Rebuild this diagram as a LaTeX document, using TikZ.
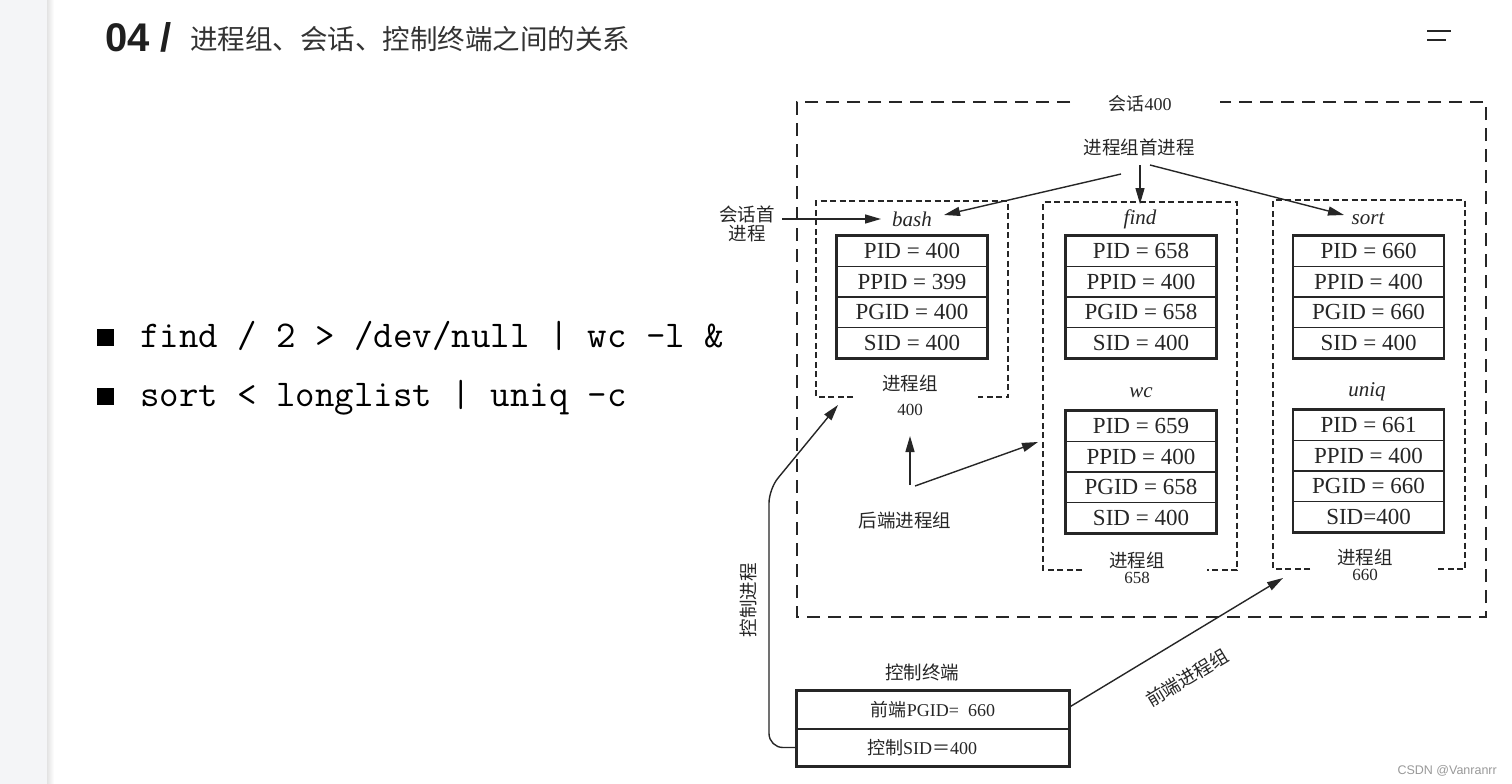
\documentclass[tikz,border=0pt]{standalone}
\usepackage{fontspec}
\setmainfont{Liberation Serif}
\newfontfamily\zh{Noto Sans CJK SC}
\newfontfamily\hei{Liberation Sans}
\usetikzlibrary{arrows.meta}
\colorlet{ink}{black!85}
\definecolor{strip}{RGB}{244,245,247}
\newcommand\ptable[7]{%
  \node[row] (#1-1) at ({#2},{#3+15.25}) {#4};
  \node[row] (#1-2) at ({#2},{#3+45.75}) {#5};
  \node[row] (#1-3) at ({#2},{#3+76.25}) {#6};
  \node[row] (#1-4) at ({#2},{#3+106.75}) {#7};
  \draw[ink, line width=2.4pt] (#1-1.north west) rectangle (#1-4.south east);
}
\begin{document}
\begin{tikzpicture}[x=1pt,y=-1pt,
  sess/.style={draw=ink, line width=2.3pt, dash pattern=on 13pt off 8pt},
  grp/.style={draw=ink, line width=2pt, dash pattern=on 6pt off 3.5pt},
  row/.style={draw=ink, line width=1.2pt, minimum width=150pt, minimum height=30.5pt, inner sep=0pt, text=ink, font=\fontsize{23}{25}\selectfont},
  arr/.style={draw=ink, line width=1.4pt, -{Triangle[length=16pt,width=9pt]}},
  zhl/.style={font=\zh\fontsize{18.5}{20}\selectfont, text=ink, inner sep=0pt},
  num/.style={font=\fontsize{18}{20}\selectfont, text=ink, inner sep=0pt},
  proc/.style={font=\itshape\fontsize{21}{22}\selectfont, text=ink, inner sep=0pt},
  cmd/.style={anchor=base west, inner sep=0pt, font=\ttfamily\fontsize{37.8}{38}\selectfont},
  bullet/.style={fill=black, minimum size=17pt, inner sep=0pt}]
\useasboundingbox (0,0) rectangle (1512,784);
\fill[white] (0,0) rectangle (1512,784);
\fill[strip] (0,0) rectangle (48,784);
\shade[left color=gray!22, right color=white] (47,0) rectangle (54,784);

% title
\node[anchor=base west, inner sep=0pt, font=\hei\bfseries\fontsize{40}{40}\selectfont, text=black!88] (titlenum) at (105,52) {04 /};
\node[anchor=base west, inner sep=0pt, font=\zh\fontsize{27.5}{28}\selectfont, text=black!80] (title) at (190,49) {进程组、会话、控制终端之间的关系};
\draw[line width=2.2pt, black!85] (1427,31) -- (1451,31) (1427,40) -- (1446,40);

% commands
\node[bullet] (b1) at (105.5,337.5) {};
\node[bullet] (b2) at (105.5,396.5) {};
\node[cmd] (cmd1) at (140,347) {find / 2 > /dev/null | wc -l \&};
\node[cmd] (cmd2) at (140,406) {sort < longlist | uniq -c};

% session box
\draw[sess] (1070,102) -- (797,102) -- (797,617) -- (1486,617) -- (1486,102) -- (1220,102);
\node[num] (sessl) at (1140,104) {{\zh 会话}400};
\node[zhl] (lead) at (1139,147) {进程组首进程};

% process groups
\draw[grp] (853,397) -- (816,397) -- (816,201) -- (1008,201) -- (1008,397) -- (978,397);
\draw[grp] (1082,570) -- (1043,570) -- (1043,202) -- (1237,202) -- (1237,570) -- (1207,570);
\draw[grp] (1310,569) -- (1273,569) -- (1273,200) -- (1465,200) -- (1465,569) -- (1435,569);

\node[proc] (bashl) at (912,219) {bash};
\node[proc] (findl) at (1140,219) {find};
\node[proc] (sortl) at (1368,219) {sort};
\node[proc] (wcl) at (1141,393) {wc};
\node[proc] (uniql) at (1367,392) {uniq};

\ptable{bash}{912}{236}{PID = 400}{PPID = 399}{PGID = 400}{SID = 400}
\ptable{find}{1141}{236}{PID = 658}{PPID = 400}{PGID = 658}{SID = 400}
\ptable{sort}{1368.5}{236}{PID = 660}{PPID = 400}{PGID = 660}{SID = 400}
\ptable{wc}{1141}{411}{PID = 659}{PPID = 400}{PGID = 658}{SID = 400}
\ptable{uniq}{1368.5}{410}{PID = 661}{PPID = 400}{PGID = 660}{SID=400}

\node[zhl] (g1) at (910,383) {进程组};
\node[num, font=\fontsize{17}{18}\selectfont] (g1n) at (910,410) {400};
\node[zhl] (g2) at (1137,560) {进程组};
\node[num, font=\fontsize{17}{18}\selectfont] (g2n) at (1137,578) {658};
\node[zhl] (g3) at (1365,557) {进程组};
\node[num, font=\fontsize{17}{18}\selectfont] (g3n) at (1365,575) {660};

% labels
\node[zhl, align=center, font=\zh\fontsize{18.5}{18.5}\selectfont] (sleader) at (747,224) {会话首\\进程};
\node[zhl] (bg) at (905,520) {后端进程组};
\node[zhl] (termt) at (922,672) {控制终端};
\node[zhl, rotate=90] (ctrlp) at (748,600) {控制进程};
\node[zhl, rotate=31] (fg) at (1187,678) {前端进程组};

% terminal
\node[draw=ink, line width=1.2pt, minimum width=272pt, minimum height=38pt, inner sep=0pt, text=ink, font=\fontsize{18}{20}\selectfont] (term1) at (933,710) {{\zh 前端}PGID=\ \ 660};
\node[draw=ink, line width=1.2pt, minimum width=272pt, minimum height=37pt, inner sep=0pt, text=ink, font=\fontsize{18}{20}\selectfont] (term2) at (933,747.5) {\hspace*{-22pt}{\zh 控制}SID{\zh ＝}400};
\draw[ink, line width=2.4pt] (term1.north west) rectangle (term2.south east);

% arrows
\coordinate (a1s) at (1121,174); \coordinate (a1e) at (944,215);
\coordinate (a2s) at (1140,165); \coordinate (a2e) at (1140,204);
\coordinate (a3s) at (1150,165); \coordinate (a3e) at (1344,215);
\coordinate (a4s) at (782,219);  \coordinate (a4e) at (881,219);
\coordinate (a5s) at (910,485);  \coordinate (a5e) at (910,436);
\coordinate (a6s) at (915,486);  \coordinate (a6e) at (1038,442);
\coordinate (a7e) at (838,405);
\coordinate (a8e) at (1283,578);
\draw[arr] (a1s) -- (a1e);
\draw[arr] (a2s) -- (a2e);
\draw[arr] (a3s) -- (a3e);
\draw[arr] (a4s) -- (a4e);
\draw[arr] (a5s) -- (a5e);
\draw[arr] (a6s) -- (a6e);
\draw[arr, rounded corners=14pt] (term2.west) -- (769,747.5) -- (769,489) -- (a7e);
\draw[arr] ([yshift=3pt]term1.east) -- (a8e);

% watermark
\node[anchor=east, inner sep=0pt, font=\hei\fontsize{12.5}{13}\selectfont, text=gray!80] (wm) at (1497,771) {CSDN @Vanranrr};
\end{tikzpicture}
\end{document}
